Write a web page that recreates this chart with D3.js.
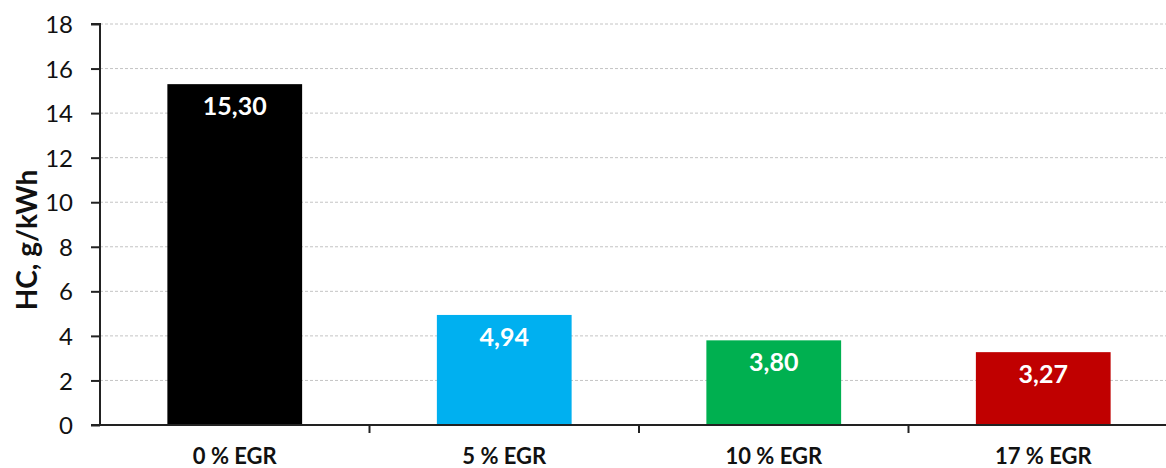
<!DOCTYPE html>
<html><head><meta charset="utf-8">
<script src="https://cdn.jsdelivr.net/npm/d3@7"></script>
<style>body{margin:0;background:#fff}svg{display:block}</style>
</head><body>
<svg id="c" width="1166" height="468"></svg>
<script>
const categories = ["0 % EGR", "5 % EGR", "10 % EGR", "17 % EGR"];
const values = [15.30, 4.94, 3.80, 3.27];
const colors = ["#000000", "#00B0F0", "#00B050", "#C00000"];
const yTicks = [0, 2, 4, 6, 8, 10, 12, 14, 16, 18];
const yTitle = "HC, g/kWh";

const svg = d3.select("#c");
const font = "Lato, 'Open Sans', sans-serif";
const x = d3.scaleBand().domain(categories).range([100, 1178]).paddingInner(0.5).paddingOuter(0.25);
const y = d3.scaleLinear().domain([0, 18]).range([425, 24]);

// grid
svg.append("g").selectAll("line").data(yTicks.filter(d => d > 0)).join("line")
  .attr("x1", 100).attr("x2", 1166).attr("y1", d => y(d)).attr("y2", d => y(d))
  .attr("stroke", "#c4c4c4").attr("stroke-width", 1).attr("stroke-dasharray", "3,2");

// bars
svg.append("g").selectAll("rect").data(values).join("rect")
  .attr("x", (d, i) => x(categories[i])).attr("width", x.bandwidth())
  .attr("y", d => y(d)).attr("height", d => y(0) - y(d))
  .attr("fill", (d, i) => colors[i]);

// value labels
svg.append("g").selectAll("text").data(values).join("text")
  .attr("x", (d, i) => x(categories[i]) + x.bandwidth() / 2)
  .attr("y", d => y(d) + 31)
  .attr("text-anchor", "middle").attr("fill", "#fff")
  .attr("font-family", font).attr("font-weight", "bold").attr("font-size", 25)
  .text(d => d.toFixed(2).replace(".", ","));

// y axis
const yAxis = d3.axisLeft(y).tickValues(yTicks).tickSize(9).tickPadding(18);
const gy = svg.append("g").attr("transform", "translate(100,0)").call(yAxis);
gy.select(".domain").attr("stroke", "#222").attr("stroke-width", 2).attr("d", "M-9,24H0V425H-9");
gy.selectAll(".tick line").attr("stroke", "#222").attr("stroke-width", 2);
gy.selectAll(".tick text").attr("font-family", font).attr("font-size", 24).attr("fill", "#111").attr("dy", "0.36em");

// x axis
const boundaries = categories.slice(1).map(c => x(c) - x.step() * x.paddingInner() / 2);
const gx = svg.append("g");
gx.append("line").attr("x1", 91).attr("x2", 1166).attr("y1", 425).attr("y2", 425).attr("stroke", "#222").attr("stroke-width", 2);
gx.selectAll("line.t").data(boundaries).join("line").attr("class", "t")
  .attr("x1", d => d).attr("x2", d => d).attr("y1", 425).attr("y2", 433)
  .attr("stroke", "#222").attr("stroke-width", 2);
gx.selectAll("text").data(categories).join("text")
  .attr("x", d => x(d) + x.bandwidth() / 2).attr("y", 464)
  .attr("text-anchor", "middle").attr("font-family", font).attr("font-weight", "bold")
  .attr("font-size", 22).attr("fill", "#111").text(d => d);

// y title
svg.append("text").attr("transform", "translate(37,240) rotate(-90)")
  .attr("text-anchor", "middle").attr("font-family", font).attr("font-weight", "bold")
  .attr("font-size", 28).attr("fill", "#111").text(yTitle);
</script>
</body></html>
